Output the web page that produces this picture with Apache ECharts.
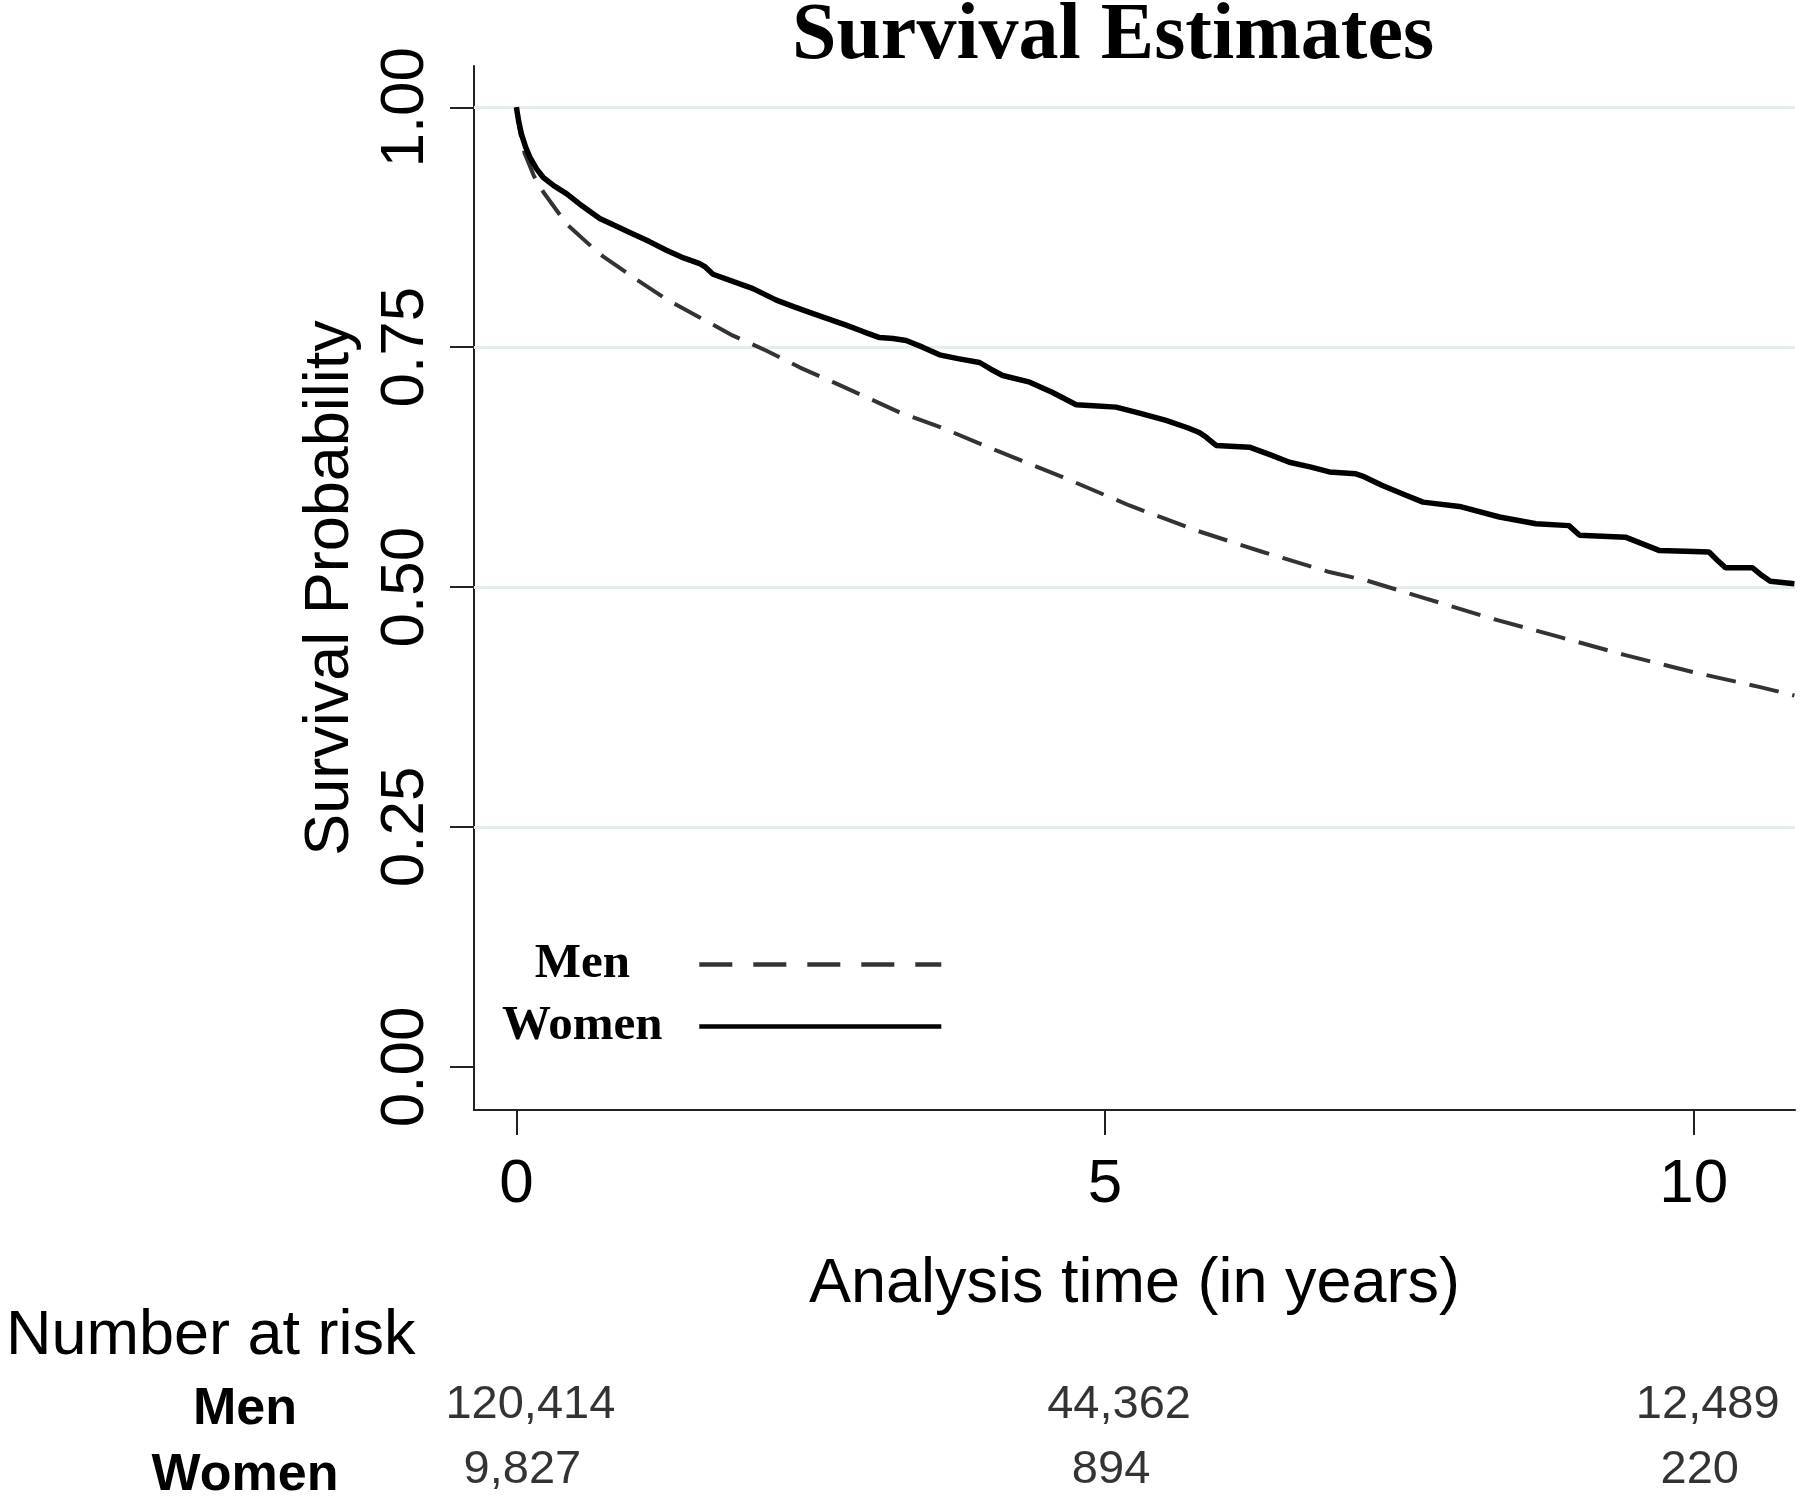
<!DOCTYPE html>
<html><head><meta charset="utf-8">
<script src="https://cdn.jsdelivr.net/npm/echarts/dist/echarts.min.js"></script>
<style>html,body{margin:0;padding:0;background:#fff}#c{width:1800px;height:1511px}</style>
</head><body><div id="c"></div>
<script>
// ---------- data ----------
const chartTitle = 'Survival Estimates';
const seriesNames = ['Men', 'Women'];
const xTicks = [0, 5, 10];
const yTicks = [0, 0.25, 0.5, 0.75, 1];
const yTickLabels = ['0.00', '0.25', '0.50', '0.75', '1.00'];
const gridValues = [0.25, 0.5, 0.75, 1];
// [time in years, survival probability]
const menCurve = [
  [0, 1.0], [0.03, 0.975], [0.07, 0.952], [0.15, 0.928], [0.227, 0.912], [0.425, 0.8785],
  [0.708, 0.847], [0.99, 0.823], [1.274, 0.800], [1.557, 0.781], [1.84, 0.762], [2.12, 0.7465],
  [2.405, 0.729], [2.69, 0.7135], [2.97, 0.698], [3.255, 0.682], [3.594, 0.667], [4.075, 0.6424],
  [4.64, 0.6146], [5.207, 0.585], [5.773, 0.559], [6.34, 0.5365], [6.905, 0.5156], [7.216, 0.507],
  [7.726, 0.488], [8.29, 0.467], [8.857, 0.448], [9.42, 0.429], [9.99, 0.4115], [10.555, 0.396],
  [10.855, 0.387]
];
const womenCurve = [
  [0, 1.0], [0.02, 0.985], [0.043, 0.972], [0.08, 0.958], [0.114, 0.948], [0.17, 0.936],
  [0.227, 0.927], [0.32, 0.918], [0.425, 0.910], [0.56, 0.897], [0.708, 0.884], [0.85, 0.876],
  [0.99, 0.868], [1.13, 0.860], [1.274, 0.851], [1.42, 0.843], [1.557, 0.837], [1.6, 0.834],
  [1.67, 0.826], [1.85, 0.818], [2.01, 0.811], [2.208, 0.799], [2.36, 0.792], [2.52, 0.785],
  [2.66, 0.779], [2.80, 0.773], [2.95, 0.766], [3.085, 0.760], [3.20, 0.759], [3.31, 0.757],
  [3.45, 0.750], [3.594, 0.742], [3.75, 0.738], [3.934, 0.734], [4.03, 0.727], [4.13, 0.7205],
  [4.36, 0.7135], [4.55, 0.703], [4.755, 0.690], [4.9, 0.689], [5.094, 0.6875], [5.3, 0.681],
  [5.518, 0.6736], [5.70, 0.666], [5.80, 0.661], [5.86, 0.656], [5.943, 0.6476], [6.226, 0.6458],
  [6.40, 0.638], [6.565, 0.630], [6.75, 0.625], [6.905, 0.620], [7.13, 0.618], [7.20, 0.615],
  [7.35, 0.606], [7.55, 0.596], [7.70, 0.5885], [8.01, 0.584], [8.35, 0.573], [8.66, 0.566],
  [8.94, 0.564], [9.03, 0.554], [9.42, 0.552], [9.71, 0.538], [10.0, 0.537], [10.13, 0.5365],
  [10.20, 0.528], [10.27, 0.520], [10.50, 0.520], [10.58, 0.512], [10.65, 0.506], [10.855, 0.5035]
];
const riskHeader = 'Number at risk';
const riskGroups = ['Men', 'Women'];
const riskTimes = [0, 5, 10];
const menAtRisk = [120414, 44362, 12489];
const womenAtRisk = [9827, 894, 220];
const xAxisName = 'Analysis time (in years)';
const yAxisName = 'Survival Probability';

// ---------- chart ----------
const SANS = 'Liberation Sans, Arial, sans-serif';
const SERIF = 'Liberation Serif, Times New Roman, serif';
const fmt = n => String(n).replace(/\B(?=(\d{3})+(?!\d))/g, ',');
const X_MIN = -0.36, X_MAX = 10.86;

const chart = echarts.init(document.getElementById('c'), null, {renderer: 'canvas'});
chart.setOption({
  animation: false,
  backgroundColor: '#fff',
  graphic: [
    {type: 'text', x: 1113, y: 37.5, style: {text: chartTitle, font: 'bold 80px ' + SERIF, fill: '#000', align: 'center', verticalAlign: 'middle'}},
    {type: 'text', x: 6, y: 1337, style: {text: riskHeader, font: '63px ' + SANS, fill: '#000', align: 'left', verticalAlign: 'middle'}}
  ],
  legend: {
    data: [
      {name: 'Men', lineStyle: {type: [33, 21], width: 4.5}},
      {name: 'Women', lineStyle: {width: 4.5}}
    ],
    orient: 'vertical', left: 502, top: 940, padding: 0,
    itemWidth: 242, itemHeight: 49, itemGap: 13, align: 'right',
    selectedMode: false,
    lineStyle: {width: 4.5},
    itemStyle: {color: 'transparent', borderWidth: 0, opacity: 0},
    formatter: n => '{c|' + n + '}',
    textStyle: {rich: {c: {width: 224, align: 'center', fontFamily: SERIF, fontWeight: 'bold', fontSize: 49, color: '#000'}}}
  },
  grid: [
    {left: 474, right: 5, top: 66, bottom: 401, containLabel: false},
    {left: 474, right: 5, top: 1377, bottom: 2, containLabel: false}
  ],
  xAxis: [
    {
      type: 'value', gridIndex: 0, min: X_MIN, max: X_MAX,
      name: xAxisName, nameLocation: 'middle', nameGap: 143,
      nameTextStyle: {fontFamily: SANS, fontSize: 63, color: '#000'},
      axisLine: {show: true, onZero: false, lineStyle: {color: '#222', width: 2}},
      axisTick: {show: true, length: 25, customValues: xTicks, lineStyle: {color: '#222', width: 2}},
      axisLabel: {customValues: xTicks, fontFamily: SANS, fontSize: 62, color: '#000', margin: 44},
      splitLine: {show: false}
    },
    {
      type: 'value', gridIndex: 1, min: X_MIN, max: X_MAX, show: false
    }
  ],
  yAxis: [
    {
      type: 'value', gridIndex: 0, min: -0.045, max: 1.043,
      name: yAxisName, nameLocation: 'middle', nameGap: 112, nameRotate: 90,
      nameTextStyle: {fontFamily: SANS, fontSize: 63, color: '#000'},
      axisLine: {show: true, onZero: false, lineStyle: {color: '#222', width: 2}},
      axisTick: {show: true, length: 24, customValues: yTicks, lineStyle: {color: '#222', width: 2}},
      axisLabel: {customValues: yTicks, rotate: 90, fontFamily: SANS, fontSize: 62, color: '#000', margin: 37,
        formatter: v => yTickLabels[yTicks.indexOf(v)]},
      splitLine: {show: false}
    },
    {
      type: 'category', gridIndex: 1, data: riskGroups, inverse: true,
      axisLine: {show: false}, axisTick: {show: false}, splitLine: {show: false},
      axisLabel: {interval: 0, fontFamily: SANS, fontWeight: 'bold', fontSize: 52, color: '#000', align: 'center', margin: 229}
    }
  ],
  series: [
    {
      name: seriesNames[0], type: 'line', xAxisIndex: 0, yAxisIndex: 0, data: menCurve,
      symbol: 'none', smooth: false, z: 3,
      lineStyle: {color: '#333', width: 4, type: [30, 14]},
      itemStyle: {color: '#333'},
      markLine: {
        silent: true, symbol: ['none', 'none'], z: 1, label: {show: false},
        lineStyle: {color: '#e4ecec', width: 3, type: 'solid'},
        data: gridValues.map(v => ({yAxis: v}))
      }
    },
    {
      name: seriesNames[1], type: 'line', xAxisIndex: 0, yAxisIndex: 0, data: womenCurve,
      symbol: 'none', smooth: false, z: 4,
      lineStyle: {color: '#000', width: 5.5},
      itemStyle: {color: '#000'}
    },
    {
      name: 'MenRisk', type: 'scatter', xAxisIndex: 1, yAxisIndex: 1,
      data: riskTimes.map((t, i) => [t, riskGroups[0], menAtRisk[i]]),
      symbolSize: 1, itemStyle: {color: 'rgba(0,0,0,0)'}, silent: true,
      label: {show: true, position: 'inside', offset: [14, -5], formatter: p => fmt(p.value[2]),
        fontFamily: SANS, fontSize: 47, color: '#000', textBorderWidth: 0}
    },
    {
      name: 'WomenRisk', type: 'scatter', xAxisIndex: 1, yAxisIndex: 1,
      data: riskTimes.map((t, i) => [t, riskGroups[1], womenAtRisk[i]]),
      symbolSize: 1, itemStyle: {color: 'rgba(0,0,0,0)'}, silent: true,
      label: {show: true, position: 'inside', offset: [6, -6], formatter: p => fmt(p.value[2]),
        fontFamily: SANS, fontSize: 47, color: '#000', textBorderWidth: 0}
    }
  ]
});
</script>
</body></html>
